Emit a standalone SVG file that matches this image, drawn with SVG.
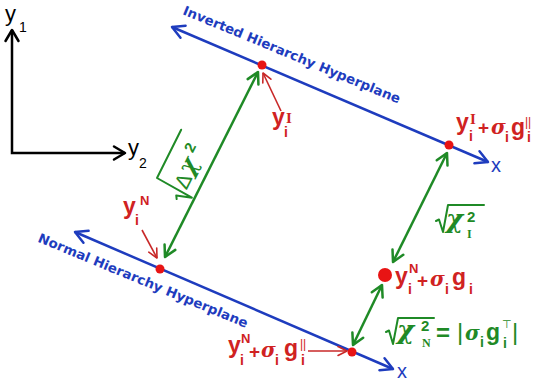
<svg xmlns="http://www.w3.org/2000/svg" width="541" height="385" viewBox="0 0 541 385">
<defs>
<style>
.ax{stroke:#000;stroke-width:2.5;fill:none}
.bl{stroke:#1e3cbe;stroke-width:2.5;fill:none}
.gr{stroke:#1f8a26;stroke-width:2.5;fill:none}
.rd{stroke:#c82828;stroke-width:1.6;fill:none}
.rad{stroke:#1f8a26;stroke-width:2;fill:none;stroke-linejoin:round;stroke-linecap:round}
.dot{fill:#e81414}
.s{font-family:"Liberation Sans",Arial,sans-serif;font-weight:bold}
.n{font-family:"Liberation Sans",Arial,sans-serif;font-weight:normal}
.sf{font-family:"Liberation Serif","Times New Roman",serif;font-weight:bold}
.gk{font-family:"DejaVu Serif","Liberation Serif",serif;font-style:italic;font-weight:bold}
.dj{font-family:"DejaVu Sans",sans-serif;font-weight:normal}
.red{fill:#d02222}
.grn{fill:#1f8a26}
.blu{fill:#1e3cbe}
.blk{fill:#000}
.hp{font-family:"DejaVu Sans",Verdana,sans-serif;font-weight:bold;font-size:13px;fill:#1e3cbe}
</style>
<marker id="mK" viewBox="-14 -9 16 18" markerWidth="16" markerHeight="18" refX="0" refY="0" orient="auto-start-reverse" markerUnits="userSpaceOnUse"><path d="M-11,-6.5 L0,0 L-11,6.5" fill="none" stroke="#000" stroke-width="2.5" stroke-linecap="round" stroke-linejoin="round"/></marker>
<marker id="mB" viewBox="-14 -9 16 18" markerWidth="16" markerHeight="18" refX="0" refY="0" orient="auto-start-reverse" markerUnits="userSpaceOnUse"><path d="M-12,-6.5 L0,0 L-12,6.5" fill="none" stroke="#1e3cbe" stroke-width="2.5" stroke-linecap="round" stroke-linejoin="round"/></marker>
<marker id="mG" viewBox="-14 -9 16 18" markerWidth="16" markerHeight="18" refX="0" refY="0" orient="auto-start-reverse" markerUnits="userSpaceOnUse"><path d="M-11,-6 L0,0 L-11,6" fill="none" stroke="#1f8a26" stroke-width="2.5" stroke-linecap="round" stroke-linejoin="round"/></marker>
<marker id="mR" viewBox="-12 -7 14 14" markerWidth="14" markerHeight="14" refX="0" refY="0" orient="auto" markerUnits="userSpaceOnUse"><path d="M-9,-4.5 L0,0 L-9,4.5" fill="none" stroke="#c82828" stroke-width="1.6" stroke-linecap="round" stroke-linejoin="round"/></marker>
</defs>
<rect width="541" height="385" fill="#fff"/>

<g id="axes">
<path class="ax" d="M12,30 L12,153 L125,153" marker-start="url(#mK)" marker-end="url(#mK)"/>
<text class="n blk" x="5" y="21" font-size="22">y</text>
<text class="n blk" x="19" y="32" font-size="14" font-weight="bold">1</text>
<text class="n blk" x="128" y="155" font-size="22">y</text>
<text class="n blk" x="139" y="168" font-size="14" font-weight="bold">2</text>
</g>

<g id="inverted-hyperplane">
<path class="bl" d="M172,27 L488,162" marker-start="url(#mB)" marker-end="url(#mB)"/>
<text class="hp" transform="translate(182,14) rotate(22.5)" textLength="234" lengthAdjust="spacingAndGlyphs">Inverted Hierarchy Hyperplane</text>
<text class="n blu" x="491" y="172" font-size="20">x</text>
</g>

<g id="normal-hyperplane">
<path class="bl" d="M75,232 L393,369" marker-start="url(#mB)" marker-end="url(#mB)"/>
<text class="hp" transform="translate(37,241.5) rotate(22.5)" textLength="226" lengthAdjust="spacingAndGlyphs">Normal Hierarchy Hyperplane</text>
<text class="n blu" x="397" y="378" font-size="20">x</text>
</g>

<g id="connectors">
<path class="gr" d="M258,72 L165,257" marker-start="url(#mG)" marker-end="url(#mG)"/>
<path class="gr" d="M447,153 L393,262" marker-start="url(#mG)" marker-end="url(#mG)"/>
<path class="gr" d="M382,285 L353,345" marker-start="url(#mG)" marker-end="url(#mG)"/>
<path class="rd" d="M281,111 L263,73" marker-end="url(#mR)"/>
<path class="rd" d="M142,230 L157,258" marker-end="url(#mR)"/>
<path class="rd" d="M308,351 L347,351" marker-end="url(#mR)"/>
</g>

<g id="yI">
<circle class="dot" cx="262" cy="65" r="4.5"/>
<text class="s red" x="272" y="125" font-size="23">y</text>
<text class="sf red" x="286" y="123" font-size="15">I</text>
<text class="s red" x="284" y="137" font-size="14">i</text>
</g>

<g id="yI-plus-sg-par">
<circle class="dot" cx="449" cy="145" r="4.5"/>
<text class="s red" x="456" y="130" font-size="23">y</text>
<text class="sf red" x="470" y="124" font-size="15">I</text>
<text class="s red" x="469" y="141" font-size="14">i</text>
<text class="s red" x="478" y="134" font-size="19">+</text>
<text class="gk red" x="491" y="134" font-size="20">σ</text>
<text class="s red" x="505" y="142" font-size="14">i</text>
<text class="s red" x="511" y="135" font-size="23">g</text>
<text class="n red" x="525" y="126" font-size="12">||</text>
<text class="s red" x="527" y="142" font-size="14">i</text>
</g>

<g id="yN">
<circle class="dot" cx="160" cy="269" r="4.5"/>
<text class="s red" x="123" y="214" font-size="23">y</text>
<text class="s red" x="140" y="205" font-size="13">N</text>
<text class="s red" x="135" y="225" font-size="14">i</text>
</g>

<g id="yN-plus-sg">
<circle class="dot" cx="385" cy="275" r="7"/>
<text class="s red" x="395" y="284" font-size="23">y</text>
<text class="s red" x="409" y="273" font-size="13">N</text>
<text class="s red" x="408" y="294" font-size="14">i</text>
<text class="s red" x="417" y="287" font-size="19">+</text>
<text class="gk red" x="430" y="286" font-size="20">σ</text>
<text class="s red" x="445" y="294" font-size="14">i</text>
<text class="s red" x="452" y="285" font-size="23">g</text>
<text class="s red" x="469" y="294" font-size="14">i</text>
</g>

<g id="yN-plus-sg-par">
<circle class="dot" cx="352" cy="352" r="4.5"/>
<text class="s red" x="228" y="353" font-size="23">y</text>
<text class="s red" x="241" y="343" font-size="13">N</text>
<text class="s red" x="240" y="365" font-size="14">i</text>
<text class="s red" x="249" y="358" font-size="19">+</text>
<text class="gk red" x="261" y="357" font-size="20">σ</text>
<text class="s red" x="275" y="365" font-size="14">i</text>
<text class="s red" x="284" y="356" font-size="23">g</text>
<text class="n red" x="300" y="348" font-size="12">||</text>
<text class="s red" x="301" y="365" font-size="14">i</text>
</g>

<g id="delta-chi">
<g transform="translate(157,178) rotate(-63.43)">
<path class="rad" d="M-10,27 L-7,25 L-2,40 L0,0 L54,0"/>
<text class="n grn" x="2" y="32" font-size="21">Δ</text>
<text class="gk grn" x="17" y="30" font-size="24" font-weight="normal">χ</text>
<text class="s grn" x="38" y="21" font-size="15">2</text>
</g>
</g>

<g id="chi-I">
<path class="rad" d="M436,221 L439,219.5 L443,232 L448,205 L484,205"/>
<text class="gk grn" x="446" y="228" font-size="26" font-weight="normal">χ</text>
<text class="s grn" x="467" y="222" font-size="15">2</text>
<text class="sf grn" x="467" y="238" font-size="12" font-weight="normal">I</text>
</g>

<g id="chi-N">
<path class="rad" d="M386,332 L389,330.5 L393,344 L398,318 L434,318"/>
<text class="gk grn" x="397" y="339" font-size="26" font-weight="normal">χ</text>
<text class="s grn" x="421" y="331" font-size="15">2</text>
<text class="sf grn" x="422" y="347" font-size="12" font-weight="normal">N</text>
<text class="s grn" x="436" y="341" font-size="24">=</text>
<text class="n grn" x="457" y="340" font-size="24">|</text>
<text class="gk grn" x="465" y="340" font-size="20">σ</text>
<text class="s grn" x="480" y="347" font-size="14">i</text>
<text class="s grn" x="486" y="340" font-size="23">g</text>
<text class="dj grn" x="502" y="328" font-size="11">⊤</text>
<text class="s grn" x="503" y="348" font-size="14">i</text>
<text class="n grn" x="512" y="340" font-size="24">|</text>
</g>
</svg>
